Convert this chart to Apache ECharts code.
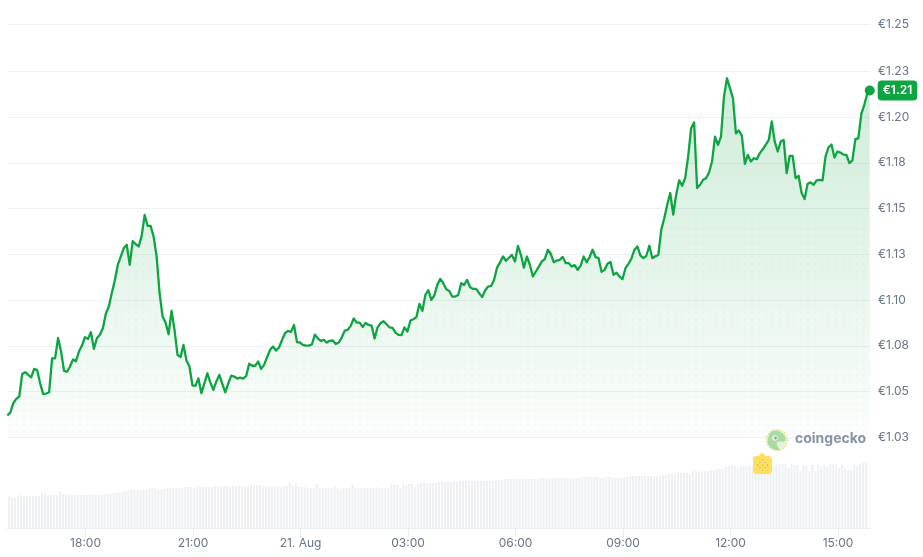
<!DOCTYPE html>
<html>
<head>
<meta charset="utf-8">
<style>html,body{margin:0;padding:0;background:#fff}#c{width:923px;height:557px}</style>
<script src="https://cdn.jsdelivr.net/npm/echarts@6/dist/echarts.min.js"></script>
</head>
<body>
<div id="c"></div>
<script>
const priceValues = [
1.0369,1.0385,1.0436,1.0460,1.0473,1.0596,1.0606,1.0591,1.0578,1.0624,1.0617,1.0545,1.0487,1.0489,1.0496,1.0681,1.0681,1.0793,1.0719,1.0613,
1.0608,1.0637,1.0675,1.0666,1.0719,1.0751,1.0797,1.0788,1.0824,1.0733,1.0791,1.0810,1.0846,1.0925,1.0965,1.1038,1.1107,1.1192,1.1238,1.1284,
1.1302,1.1192,1.1322,1.1305,1.1293,1.1351,1.1465,1.1405,1.1405,1.1347,1.1238,1.1038,1.0910,1.0877,1.0813,1.0941,1.0837,1.0701,1.0688,1.0755,
1.0670,1.0637,1.0534,1.0531,1.0572,1.0491,1.0545,1.0600,1.0549,1.0509,1.0554,1.0591,1.0542,1.0496,1.0545,1.0587,1.0582,1.0571,1.0576,1.0571,
1.0585,1.0652,1.0641,1.0641,1.0664,1.0624,1.0646,1.0688,1.0728,1.0746,1.0724,1.0741,1.0782,1.0819,1.0831,1.0826,1.0864,1.0770,
1.0768,1.0755,1.0751,1.0751,1.0757,1.0811,1.0791,1.0777,1.0782,1.0768,1.0777,1.0779,1.0760,1.0768,1.0795,1.0833,1.0837,1.0859,1.0899,1.0877,
1.0877,1.0853,1.0875,1.0864,1.0860,1.0790,1.0851,1.0873,1.0884,1.0868,1.0851,1.0848,1.0822,1.0810,1.0808,1.0851,1.0828,1.0888,1.0895,1.0907,
1.0979,1.0941,1.1028,1.1054,1.1001,1.1025,1.1083,1.1116,1.1092,1.1059,1.1050,1.1019,1.1019,1.1028,1.1092,1.1083,1.1110,1.1070,1.1061,1.1061,
1.1038,1.1016,1.1052,1.1074,1.1077,1.1110,1.1177,1.1206,1.1238,1.1215,1.1231,1.1247,1.1211,1.1296,1.1247,1.1177,1.1238,1.1193,1.1129,1.1156,
1.1183,1.1211,1.1224,1.1275,1.1253,1.1207,1.1216,1.1220,1.1236,1.1202,1.1202,1.1183,1.1191,1.1165,1.1188,1.1238,1.1207,1.1235,1.1275,1.1235,1.1229,
1.1154,1.1165,1.1198,1.1208,1.1138,1.1150,1.1129,1.1114,1.1174,1.1198,1.1226,1.1275,1.1293,1.1244,1.1229,1.1242,1.1297,1.1229,1.1239,1.1246,
1.1384,1.1447,1.1521,1.1585,1.1467,1.1576,1.1654,1.1625,1.1666,1.1784,1.1939,1.1971,1.1612,1.1630,1.1657,1.1666,1.1697,1.1757,1.1893,1.1848,
1.1893,1.2112,1.2212,1.2158,1.2103,1.1911,1.1927,1.1897,1.1744,1.1793,1.1757,1.1775,1.1770,1.1803,1.1824,1.1850,1.1875,1.1976,1.1866,1.1812,
1.1866,1.1875,1.1694,1.1788,1.1788,1.1666,1.1679,1.1585,1.1552,1.1635,1.1643,1.1630,1.1654,1.1657,1.1654,1.1784,1.1835,1.1850,1.1779,1.1812,
1.1806,1.1795,1.1793,1.1748,1.1763,1.1879,1.1884,1.2018,1.2067,1.2130
];
const lastPrice = 1.2145;
const lastPriceLabel = "€1.21";
const volumeValues = [
32,30,30,32,33,31,32,32,32,32,32,35,35,33,33,33,33,37,34,34,33,33,33,33,33,33,33,34,33,33,33,33,34,34,34,35,35,36,36,37,37,39,38,38,38,39,39,40,
40,40,39,39,39,40,40,40,40,40,40,41,41,41,40,41,41,41,41,41,41,42,42,42,42,42,41,42,42,42,42,42,42,43,43,43,43,42,42,42,42,42,42,41,42,42,45,42,44,41,41,41,40,40,40,44,40,40,40,40,40,42,40,39,40,40,40,43,40,40,40,40,40,40,40,41,40,40,40,40,44,43,43,
40,44,43,44,44,41,44,45,45,45,45,45,45,46,46,46,46,46,46,46,47,47,47,47,47,47,47,47,47,47,47,47,48,48,48,49,49,49,49,49,49,49,49,49,49,49,49,50,50,50,50,50,50,50,50,50,50,50,50,50,50,51,51,51,51,51,51,50,50,51,51,51,50,50,50,51,51,52,52,52,52,52,52,52,
52,52,52,52,53,53,54,54,54,55,55,55,55,54,57,57,56,57,57,57,58,58,59,59,59,61,62,62,62,59,62,62,61,62,62,62,62,63,63,63,63,63,64,64,64,64,60,64,63,63,57,62,62,57,63,57,63,61,63,61,64,64,64,60,63,60,58,58,63,61,64,65,65
];
const priceTickValues = [1.025,1.05,1.075,1.1,1.125,1.15,1.175,1.2,1.225,1.2507];
const priceTickLabels = ["€1.03","€1.05","€1.08","€1.10","€1.13","€1.15","€1.18","€1.20","€1.23","€1.25"];
const timeTickLabels = ["18:00","21:00","21. Aug","03:00","06:00","09:00","12:00","15:00"];
const timeTickMoments = [[20,18],[20,21],[21,0],[21,3],[21,6],[21,9],[21,12],[21,15]];

const MIN = 60000;
const tickTimes = timeTickMoments.map(m => Date.UTC(2024,7,m[0],m[1]));
const axisStart = Date.UTC(2024,7,20,15,48,30);
const axisEnd = axisStart + 1445*MIN;
const priceStart = Date.UTC(2024,7,20,15,49);
const volumeStart = Date.UTC(2024,7,20,15,52);
const lineData = priceValues.map((v,i)=>[priceStart+i*5*MIN,v]);
lineData.push([axisEnd-MIN/2,lastPrice]);
const barData = volumeValues.map((v,i)=>[volumeStart+i*5*MIN,v]);

// area fill: vertical fade plus the faint dot texture, aligned to the page
const pat = document.createElement('canvas');
pat.width = 923; pat.height = 557;
const p = pat.getContext('2d');
const g = p.createLinearGradient(0,78,0,437);
g.addColorStop(0,'rgba(12,160,64,0.20)');
g.addColorStop(0.5,'rgba(12,160,64,0.11)');
g.addColorStop(1,'rgba(12,160,64,0.01)');
p.fillStyle = g; p.fillRect(0,0,923,557);
p.fillStyle = 'rgba(12,140,60,0.03)';
for (let y=432;y>215;y-=7){ for (let x=3;x<923;x+=7){ p.beginPath(); p.arc(x,y,1.2,0,Math.PI*2); p.fill(); } }

const axisText = {color:'#677489',fontFamily:'Inter',fontSize:12};
const chart = echarts.init(document.getElementById('c'),null,{renderer:'canvas'});

const badgeDots = [[0,-5],[-2.5,-2.5],[2.5,-2.5],[-5,0],[0,0],[5,0],[-2.5,2.5],[2.5,2.5],[0,5]];
const graphics = [
 {type:'circle',z:50,shape:{cx:777,cy:440,r:10.5},style:{fill:'#e6f3dc',stroke:'#eee57e',lineWidth:1.5,lineDash:[1.5,1.5]}},
 {type:'polygon',z:51,shape:{smooth:0.4,points:[[768,439],[771,432],[778,431],[784,435],[785,441],[777,442],[778,447],[780,450],[773,449],[768,444]]},style:{fill:'#a7dba0'}},
 {type:'circle',z:52,shape:{cx:775,cy:438,r:2.8},style:{fill:'#eef3ee'}},
 {type:'circle',z:53,shape:{cx:775.5,cy:438,r:1.4},style:{fill:'#8f98a6'}},
 {type:'text',z:50,style:{x:795,y:439,text:'coingecko',fill:'#8a93a5',font:'700 14px Inter',textVerticalAlign:'middle'}},
 {type:'polygon',z:50,shape:{points:[[757,457],[762,452.5],[767,457]]},style:{fill:'#ffdf5c'}},
 {type:'rect',z:50,shape:{x:753,y:456,width:19,height:18,r:3.5},style:{fill:'#ffdf5c'}}
].concat(badgeDots.map(d=>({type:'circle',z:51,shape:{cx:762.5+d[0],cy:465+d[1],r:0.55},style:{fill:'#9a9372'}})));

chart.setOption({
 animation:false,
 backgroundColor:'#fff',
 grid:[
  {left:7,width:863,top:24.3,bottom:119.7},
  {left:7,width:863,top:440,bottom:29}
 ],
 xAxis:[
  {type:'value',gridIndex:0,min:axisStart,max:axisEnd,show:false,splitLine:{show:false}},
  {type:'value',gridIndex:1,min:axisStart,max:axisEnd,
   axisLine:{show:true,lineStyle:{color:'#eceff2',width:1}},
   axisTick:{show:true,length:9,customValues:tickTimes,lineStyle:{color:'#eceff2'}},
   axisLabel:Object.assign({},axisText,{margin:9,hideOverlap:false,customValues:tickTimes,
     formatter:(v)=>timeTickLabels[tickTimes.indexOf(v)]||''}),
   splitLine:{show:false}}
 ],
 yAxis:[
  {type:'value',gridIndex:0,position:'right',min:1.025,max:1.2507,
   axisLine:{show:false},axisTick:{show:false,customValues:priceTickValues},
   axisLabel:Object.assign({},axisText,{margin:8,hideOverlap:false,customValues:priceTickValues,
     formatter:(v)=>priceTickLabels[priceTickValues.indexOf(v)]||''}),
   splitLine:{show:true,lineStyle:{color:'#eff1f4',width:1}}},
  {type:'value',gridIndex:1,min:0,max:88,show:false,splitLine:{show:false}}
 ],
 series:[
  {type:'bar',name:'Volume',xAxisIndex:1,yAxisIndex:1,data:barData,barWidth:2,itemStyle:{color:'#eef0f4'},silent:true},
  {type:'line',name:'Price',xAxisIndex:0,yAxisIndex:0,data:lineData,showSymbol:false,smooth:false,
   lineStyle:{color:'#0ca541',width:2.3,join:'round'},areaStyle:{color:{image:pat,repeat:'repeat'},opacity:1},z:3},
  {type:'scatter',name:'Latest',xAxisIndex:0,yAxisIndex:0,clip:false,data:[[axisEnd-MIN/2,lastPrice]],symbolSize:10,
   itemStyle:{color:'#0ca541',opacity:1},z:4,
   label:{show:true,position:'right',distance:3,formatter:lastPriceLabel,color:'#fff',backgroundColor:'#0ca541',
     borderRadius:4,padding:[4,5,4,5],lineHeight:12,fontFamily:'Inter',fontSize:12,fontWeight:600}}
 ],
 graphic:graphics
});
</script>
</body>
</html>
